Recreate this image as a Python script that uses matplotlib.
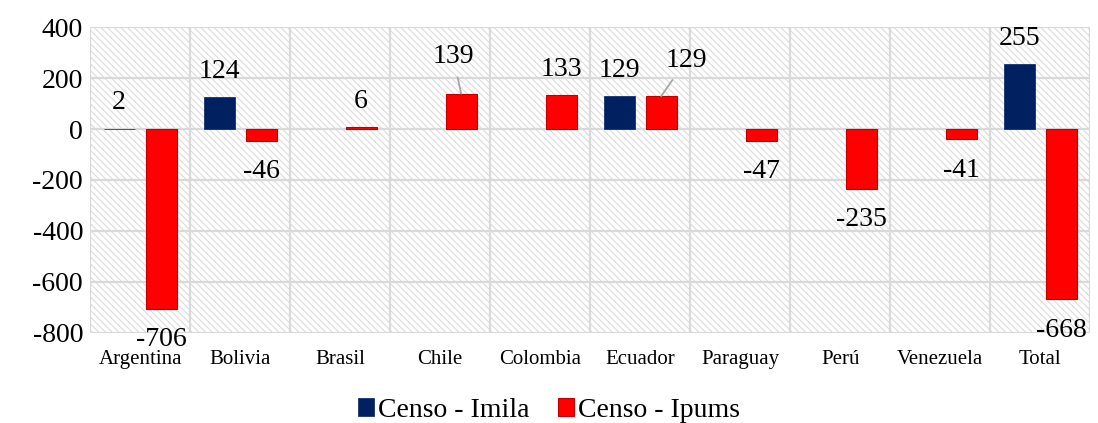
import numpy as np
import matplotlib.pyplot as plt
from matplotlib.patches import Rectangle

# Diferencias por país
paises = ['Argentina', 'Bolivia', 'Brasil', 'Chile', 'Colombia', 'Ecuador',
          'Paraguay', 'Perú', 'Venezuela', 'Total']
imila = [2, 124, None, None, None, 129, None, None, None, 255]
ipums = [-706, -46, 6, 139, 133, 129, -47, -235, -41, -668]
y_ticks = [-800, -600, -400, -200, 0, 200, 400]

plt.rcParams['font.family'] = ['Liberation Serif', 'DejaVu Serif']
plt.rcParams['hatch.linewidth'] = 0.8

azul = '#002060'
rojo = '#ff0000'

fig = plt.figure(figsize=(10.98, 4.23), dpi=100)
ax = fig.add_axes([0.082, 0.213, 0.911, 0.723])

# fondo rayado
fondo = Rectangle((0, 0), 1, 1, transform=ax.transAxes, facecolor='white',
                  edgecolor='#dcdcdc', hatch='\\' * 5, lw=0, zorder=0)
ax.add_patch(fondo)

x = np.arange(len(paises))
w = 0.31
off = 0.21
v_imila = np.array([np.nan if v is None else v for v in imila], dtype=float)
v_ipums = np.array(ipums, dtype=float)

b1 = ax.bar(x - off, v_imila, w, color=azul, edgecolor=azul, lw=0.5, zorder=2,
            label='Censo - Imila')
b2 = ax.bar(x + off, v_ipums, w, color=rojo, edgecolor='#c00000', lw=0.8, zorder=2,
            label='Censo - Ipums')

# etiquetas (desplazamientos especiales con línea guía)
guia = {('ipums', 3): (-8, 37), ('ipums', 5): (25, 36)}

def etiquetar(xs, vals, serie):
    for i, (xi, v) in enumerate(zip(xs, vals)):
        if np.isnan(v):
            continue
        if (serie, i) in guia:
            dx, dy = guia[(serie, i)]
            ax.annotate(f'{v:.0f}', (xi, v), xytext=(dx, dy), textcoords='offset pixels',
                        ha='center', va='center', fontsize=20, zorder=5,
                        arrowprops=dict(arrowstyle='-', color='#a6a6a6', lw=1.3,
                                        shrinkA=4, shrinkB=0))
        else:
            dy = 26 if v >= 0 else -31
            ax.annotate(f'{v:.0f}', (xi, v), xytext=(0, dy), textcoords='offset pixels',
                        ha='center', va='center', fontsize=20, zorder=5)

etiquetar(x - off, v_imila, 'imila')
etiquetar(x + off, v_ipums, 'ipums')

ax.set_xlim(-0.5, len(paises) - 0.5)
ax.set_ylim(-800, 400)
ax.set_yticks(y_ticks)
ax.set_yticklabels([str(t) for t in y_ticks], fontsize=20)
ax.set_xticks(x)
ax.set_xticklabels(paises, fontsize=15)
ax.set_xticks(np.arange(len(paises) + 1) - 0.5, minor=True)
ax.tick_params(axis='both', which='both', length=0)
ax.tick_params(axis='y', pad=5)
ax.tick_params(axis='x', pad=12)
ax.grid(True, axis='y', which='major', color='#d9d9d9', lw=1.6)
ax.grid(True, axis='x', which='minor', color='#d9d9d9', lw=1.6)
ax.set_axisbelow(True)
for s in ax.spines.values():
    s.set_visible(False)

fig.legend(handles=[b1, b2], loc='center', bbox_to_anchor=(0.5, 0.03), ncol=2,
           frameon=False, fontsize=20, handlelength=0.6, handleheight=0.6,
           handletextpad=0.15, columnspacing=1.0)

fig.savefig('out.png', dpi=100)
